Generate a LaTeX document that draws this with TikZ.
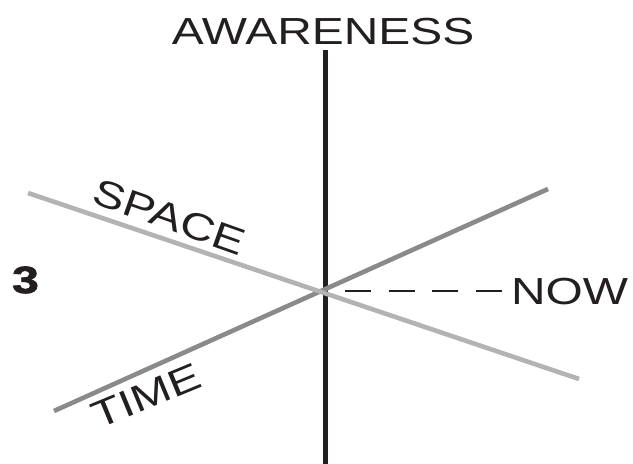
\documentclass[tikz,border=0pt]{standalone}
\usepackage{fontspec}
\setmainfont{Liberation Sans}[FakeStretch=1.27]
\newfontfamily\labelfont{Liberation Sans}[FakeStretch=1.27]
\newfontfamily\heavyfont{Liberation Sans}[FakeStretch=1.27,BoldFeatures={FakeBold=1.8}]
\definecolor{inkblack}{HTML}{231F20}
\definecolor{timegray}{HTML}{8A8A8A}
\definecolor{spacegray}{HTML}{B3B3B3}
\begin{document}
\begin{tikzpicture}[x=1pt,y=-1pt,
  lbl/.style={inner sep=0pt,outer sep=0pt,text=inkblack,font=\labelfont\fontsize{37.7}{40}\selectfont},
  axisline/.style={line width=4.5pt,inkblack},
  timeline/.style={line width=4.6pt,timegray},
  spaceline/.style={line width=4.6pt,spacegray},
  nowline/.style={line width=2pt,inkblack,dash pattern=on 26pt off 17.6pt}]
\useasboundingbox (0,0) rectangle (633,464);
% endpoints
\coordinate (atop) at (325.5,50);
\coordinate (abot) at (325.5,466);
\coordinate (tA) at (54,411);
\coordinate (tB) at (548,189);
\coordinate (sA) at (28,193);
\coordinate (sB) at (579,379);
\coordinate (dA) at (345,291);
\coordinate (dB) at (502,291);
% lines
\draw[axisline] (atop) -- (abot);
\draw[timeline] (tA) -- (tB);
\draw[spaceline] (sA) -- (sB);
\draw[nowline] (dA) -- (dB);
% labels
\node[lbl,anchor=base] (aw) at (323,44) {AWARENESS};
\node[lbl,anchor=base west] (now) at (511,304) {NOW};
\node[lbl,anchor=center,rotate=-19.5] (space) at (169.5,217) {SPACE};
\node[lbl,anchor=center,rotate=22.5] (time) at (146,396) {TIME};
\node[lbl,anchor=base,font=\heavyfont\bfseries\fontsize{38}{40}\selectfont] (three) at (25.5,293) {3};
\end{tikzpicture}
\end{document}
